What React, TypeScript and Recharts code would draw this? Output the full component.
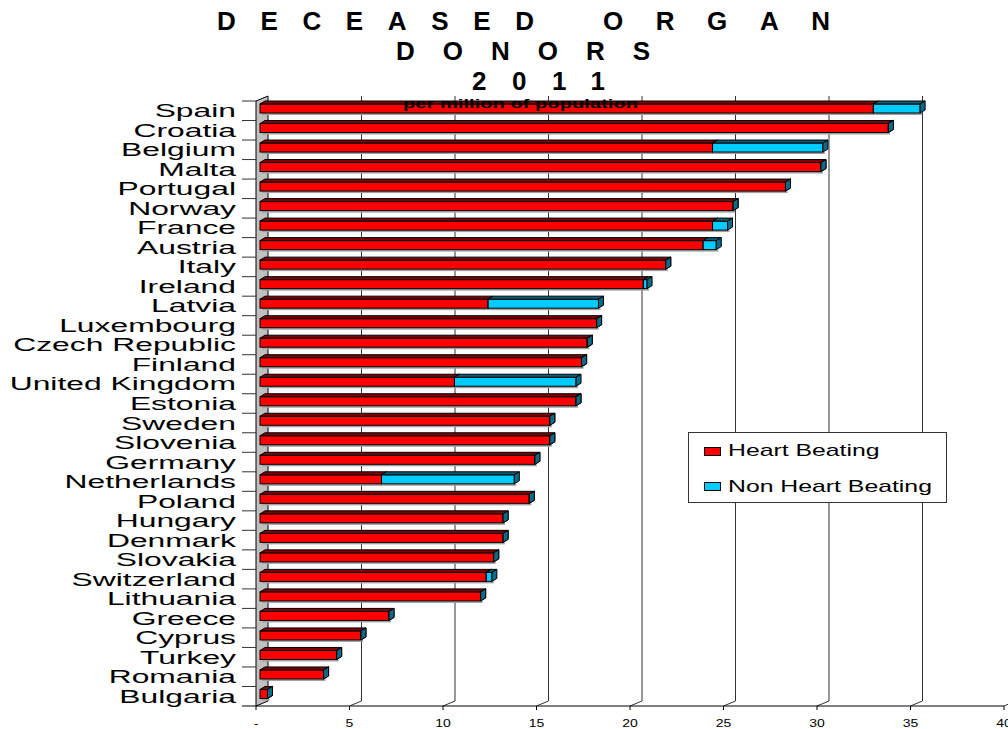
import { Bar, BarChart, CartesianGrid, Legend, XAxis, YAxis } from "recharts";

const countries = [
  "Spain", "Croatia", "Belgium", "Malta", "Portugal", "Norway", "France", "Austria",
  "Italy", "Ireland", "Latvia", "Luxembourg", "Czech Republic", "Finland", "United Kingdom",
  "Estonia", "Sweden", "Slovenia", "Germany", "Netherlands", "Poland", "Hungary", "Denmark",
  "Slovakia", "Switzerland", "Lithuania", "Greece", "Cyprus", "Turkey", "Romania", "Bulgaria",
];
const heartBeating = [
  32.8, 33.6, 24.2, 30.0, 28.1, 25.3, 24.2, 23.7, 21.7, 20.5, 12.2, 18.0, 17.5, 17.2, 10.4,
  16.9, 15.5, 15.5, 14.7, 6.5, 14.4, 13.0, 13.0, 12.5, 12.1, 11.8, 6.9, 5.4, 4.1, 3.4, 0.4,
];
const nonHeartBeating = [
  2.5, 0, 5.9, 0, 0, 0, 0.8, 0.7, 0, 0.2, 5.9, 0, 0, 0, 6.5,
  0, 0, 0, 0, 7.1, 0, 0, 0, 0, 0.3, 0, 0, 0, 0, 0, 0,
];
const xTicks = [0, 5, 10, 15, 20, 25, 30, 35, 40];

const data = countries.map((country, i) => ({
  country,
  hb: heartBeating[i],
  nhb: nonHeartBeating[i],
}));

const FONT = "'Liberation Sans', Arial, sans-serif";
const PLOT_TOP = 101;
const PLOT_BOTTOM = 706;
const BAND = (PLOT_BOTTOM - PLOT_TOP) / countries.length;
const BACK_DX = 12;
const BACK_DY = 5;

// fake 3D bar: front face, top face, right side
function makeBar(face: string, top: string) {
  return (props: any) => {
    const { x, y, width, height } = props;
    const w = Math.max(Number(width) || 0, 0);
    const x0 = x + 4;
    const y0 = y - 2;
    const dx = 5;
    const dy = 3;
    return (
      <g>
        <rect x={x0 + 2} y={y0 + height} width={w} height={2} fill="#a0a0a0" />
        <rect x={x0} y={y0} width={w} height={height} fill={face} stroke="#000" strokeWidth={1} />
        <polygon
          points={`${x0},${y0} ${x0 + dx},${y0 - dy} ${x0 + w + dx},${y0 - dy} ${x0 + w},${y0}`}
          fill={top}
          stroke="#000"
          strokeWidth={1}
        />
        <polygon
          points={`${x0 + w},${y0} ${x0 + w + dx},${y0 - dy} ${x0 + w + dx},${y0 + height - dy} ${x0 + w},${y0 + height}`}
          fill="#0b6a88"
          stroke="#000"
          strokeWidth={1}
        />
      </g>
    );
  };
}

const RedBar = makeBar("#ff0000", "#800000");
const BlueBar = makeBar("#00ccff", "#0c5e78");

function gridLine(props: any) {
  const { x1, y1, y2, index } = props;
  if (index === 0) {
    return (
      <polygon
        key={`wall-${index}`}
        points={`${x1},${y1} ${x1 + BACK_DX},${y1 - BACK_DY} ${x1 + BACK_DX},${y2 - BACK_DY} ${x1},${y2}`}
        fill="#c0c0c0"
        stroke="#000"
        strokeWidth={1}
      />
    );
  }
  return (
    <polyline
      key={`grid-${index}`}
      points={`${x1},${y2} ${x1 + BACK_DX},${y2 - BACK_DY} ${x1 + BACK_DX},${y1 - BACK_DY}`}
      fill="none"
      stroke="#333"
      strokeWidth={1}
    />
  );
}

function CountryTick(props: any) {
  const { y, payload, index } = props;
  const half = BAND / 2;
  return (
    <g>
      <line x1={242} x2={256} y1={y - half} y2={y - half} stroke="#333" />
      {index === countries.length - 1 && <line x1={242} x2={256} y1={y + half} y2={y + half} stroke="#000" />}
      <text
        transform={`translate(236, ${y + 6.5}) scale(1.72, 1)`}
        textAnchor="end"
        fontSize={18.5}
        fontFamily={FONT}
        fill="#000"
      >
        {payload.value}
      </text>
    </g>
  );
}

function ValueTick(props: any) {
  const { x, payload } = props;
  const label = payload.value === 0 ? "-" : String(payload.value);
  return (
    <text
      transform={`translate(${x}, 727) scale(1.4, 1)`}
      textAnchor="middle"
      fontSize={10}
      fontFamily={FONT}
      fill="#000"
    >
      {label}
    </text>
  );
}

function LegendBox({ payload }: any) {
  return (
    <svg width={260} height={72} style={{ display: "block" }}>
      <rect x={0.5} y={0.5} width={258} height={70} fill="#fff" stroke="#333" />
      {(payload || []).map((item: any, i: number) => (
        <g key={item.value}>
          <rect x={16.5} y={15.5 + i * 35} width={16} height={8} fill={item.color} stroke="#000" />
          <text
            transform={`translate(40, ${24 + i * 36}) scale(1.55, 1)`}
            fontSize={16}
            fontFamily={FONT}
            fill="#000"
          >
            {item.value}
          </text>
        </g>
      ))}
    </svg>
  );
}

export default function App() {
  return (
    <div style={{ position: "absolute", left: 0, top: 0, width: 1008, height: 729, background: "#fff" }}>
      <BarChart
        width={1008}
        height={729}
        data={data}
        layout="vertical"
        barSize={9}
        margin={{ top: PLOT_TOP, right: 4, left: 0, bottom: 0 }}
      >
        <CartesianGrid horizontal={false} vertical={gridLine} />
        <XAxis
          type="number"
          domain={[0, 40]}
          ticks={xTicks}
          interval={0}
          height={23}
          tickSize={4}
          axisLine={{ stroke: "#000" }}
          tickLine={{ stroke: "#000" }}
          tick={<ValueTick />}
        />
        <YAxis
          type="category"
          dataKey="country"
          width={256}
          interval={0}
          axisLine={false}
          tickLine={false}
          tick={<CountryTick />}
        />
        <Legend
          layout="horizontal"
          verticalAlign="middle"
          align="center"
          content={<LegendBox />}
          wrapperStyle={{ position: "absolute", left: 688, top: 432, width: 260, height: 72 }}
        />
        <Bar dataKey="hb" name="Heart Beating" stackId="a" fill="#ff0000" shape={RedBar} isAnimationActive={false} />
        <Bar dataKey="nhb" name="Non Heart Beating" stackId="a" fill="#00ccff" shape={BlueBar} isAnimationActive={false} />
      </BarChart>
      <svg
        width={1008}
        height={120}
        style={{ position: "absolute", left: 0, top: 0, pointerEvents: "none" }}
      >
        <g fontFamily={FONT} fontWeight="bold" fontSize={26} fill="#000">
          <text x={217} y={30} textLength={317} lengthAdjust="spacing">DECEASED</text>
          <text x={603} y={30} textLength={227} lengthAdjust="spacing">ORGAN</text>
          <text x={396} y={60} textLength={254} lengthAdjust="spacing">DONORS</text>
          <text x={472} y={90} textLength={133} lengthAdjust="spacing">2011</text>
        </g>
        <text
          x={403}
          y={108}
          textLength={235}
          lengthAdjust="spacingAndGlyphs"
          fontFamily={FONT}
          fontWeight="bold"
          fontSize={13}
          fill="#000"
        >
          per million of population
        </text>
      </svg>
    </div>
  );
}
